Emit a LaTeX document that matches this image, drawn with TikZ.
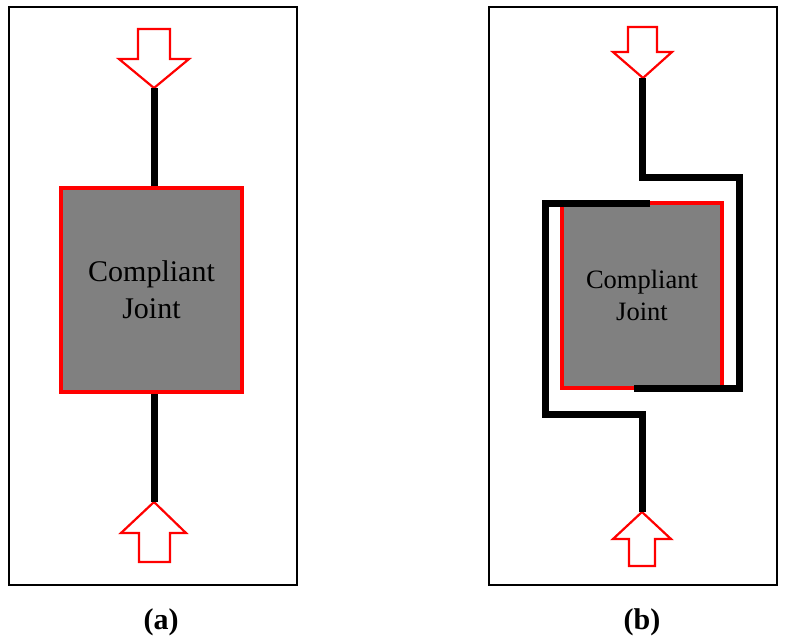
\documentclass[tikz,border=0pt]{standalone}
\usepackage{fontspec}
\setmainfont{Liberation Serif}
\begin{document}
\begin{tikzpicture}[x=1pt,y=-1pt,
  frame/.style={draw=black,line width=1.6pt},
  joint/.style={draw=red,fill=black!50,line width=4pt,align=center,inner sep=0pt},
  wire/.style={draw=black,line width=7pt,line join=miter},
  forcearrow/.style={draw=red,fill=white,line width=2.2pt,line join=miter},
  caption/.style={font=\bfseries\fontsize{30}{34}\selectfont}]
\useasboundingbox (0,0) rectangle (785,640);

% panel frames
\draw[frame] (9,7) rectangle (297,585);
\draw[frame] (489,7) rectangle (777,585);

% ---- panel (a): joint in series with the load path ----
\node[joint,minimum width=181pt,minimum height=204pt,
      font=\fontsize{30}{37}\selectfont] (ja) at (151.5,290) {Compliant\\Joint};

\draw[forcearrow] (138,29) -- (170,29) -- (170,59) -- (189,59) -- (154,88)
  coordinate (atip) -- (119,59) -- (138,59) -- cycle;
\draw[forcearrow] (154,502) coordinate (btip) -- (186,533) -- (170,533) -- (170,562)
  -- (139,562) -- (139,533) -- (121,533) -- cycle;

\draw[wire] (atip) -- (atip |- ja.north);
\draw[wire] (ja.south -| btip) -- (btip);

% ---- panel (b): load path wrapped around the joint ----
\node[joint,line width=3.5pt,minimum width=160pt,minimum height=185pt,
      font=\fontsize{26.5}{32}\selectfont] (jb) at (642,295.5) {Compliant\\Joint};

\draw[forcearrow] (628,27) -- (657,27) -- (657,52) -- (672,52) -- (643,78)
  coordinate (ctip) -- (613,52) -- (628,52) -- cycle;
\draw[forcearrow] (642,512) coordinate (dtip) -- (671,539) -- (655,539) -- (655,566)
  -- (629,566) -- (629,539) -- (613,539) -- cycle;

\coordinate (c1) at (642,177);
\coordinate (c2) at (739,177);
\coordinate (c3) at (739,388);
\coordinate (c4) at (634,388);
\draw[wire] (ctip -| c1) -- (c1) -- (c2) -- (c3) -- (c4);

\coordinate (d1) at (650,203);
\coordinate (d2) at (545,203);
\coordinate (d3) at (545,414);
\coordinate (d4) at (642,414);
\draw[wire] (d1) -- (d2) -- (d3) -- (d4) -- (dtip);

% captions
\node[caption] (capa) at (161,622) {(a)};
\node[caption] (capb) at (642,622) {(b)};
\end{tikzpicture}
\end{document}
